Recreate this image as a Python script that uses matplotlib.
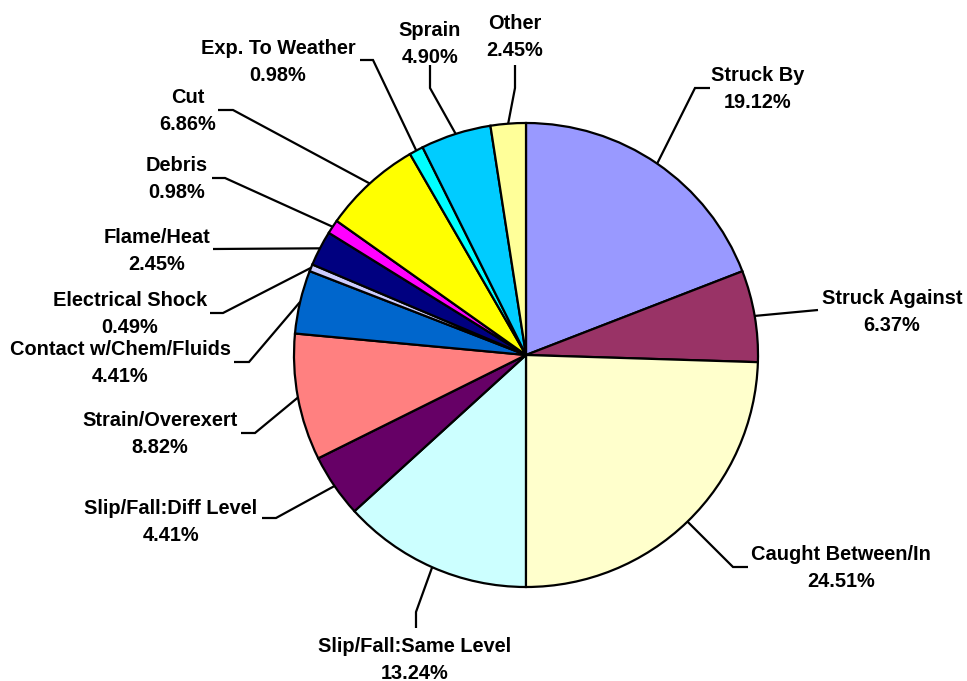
import numpy as np
import matplotlib.pyplot as plt

# data
categories = ['Struck By', 'Struck Against', 'Caught Between/In', 'Slip/Fall:Same Level',
              'Slip/Fall:Diff Level', 'Strain/Overexert', 'Contact w/Chem/Fluids',
              'Electrical Shock', 'Flame/Heat', 'Debris', 'Cut', 'Exp. To Weather',
              'Sprain', 'Other']
percents = [19.12, 6.37, 24.51, 13.24, 4.41, 8.82, 4.41, 0.49, 2.45, 0.98, 6.86, 0.98, 4.90, 2.45]

colors = ['#9999FF', '#993366', '#FFFFCC', '#CCFFFF', '#660066', '#FF8080', '#0066CC',
          '#CCCCFF', '#000080', '#FF00FF', '#FFFF00', '#00FFFF', '#00CCFF', '#FFFF99']

# layout (pixel coords, y from top): label centre, elbow, line end
W, H = 967, 681
label_xy = [(758, 89), (892, 312), (841, 568), (415, 660), (171, 522), (160, 434),
            (120, 363), (130, 314), (157, 251), (177, 179), (188, 111), (278, 62),
            (430, 44), (515, 37)]
elbows = [(695, 88), (818, 310), (733, 567), (416, 612), (276, 518), (255, 433),
          (249, 362), (223, 313), (213, 249), (225, 178), (233, 110), (373, 60),
          (430, 88), (515, 88)]
ends = [(710, 88), (818, 310), (748, 567), (416, 628), (262, 518), (241, 433),
        (234, 362), (210, 313), (213, 249), (212, 178), (218, 110), (360, 60),
        (430, 65), (515, 65)]

cx, cy, r = 526, H - 355, 232

plt.rcParams['font.family'] = ['Liberation Sans', 'DejaVu Sans']

fig = plt.figure(figsize=(W / 100, H / 100), dpi=100)
ax = fig.add_axes([0, 0, 1, 1])

wedges, _ = ax.pie(percents, colors=colors, startangle=90, counterclock=False,
                   center=(cx, cy), radius=r, frame=True,
                   wedgeprops=dict(edgecolor='black', linewidth=1.6))
ax.set_xlim(0, W)
ax.set_ylim(0, H)
ax.set_aspect('equal')
ax.axis('off')

for w, name, p, (tx, ty), (ex, ey), (nx, ny) in zip(wedges, categories, percents,
                                                    label_xy, elbows, ends):
    mid = np.deg2rad((w.theta1 + w.theta2) / 2)
    sx, sy = cx + r * np.cos(mid), cy + r * np.sin(mid)
    ax.plot([sx, ex, nx], [sy, H - ey, H - ny], color='black', lw=1.6,
            solid_capstyle='butt', solid_joinstyle='miter')
    ax.text(tx, H - ty, f'{name}\n{p:.2f}%', ha='center', va='center',
            fontsize=14.4, fontweight='bold', linespacing=1.52)

fig.savefig('out.png', dpi=100)
